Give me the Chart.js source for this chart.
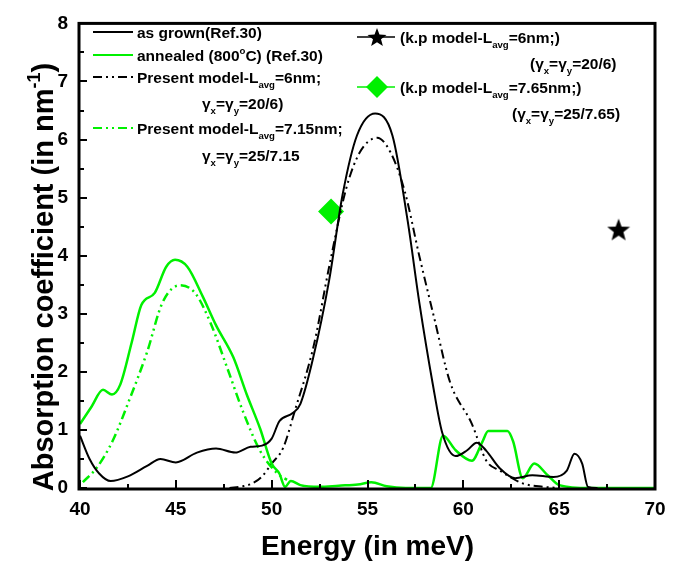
<!DOCTYPE html>
<html>
<head>
<meta charset="utf-8">
<script src="https://cdn.jsdelivr.net/npm/chart.js@4.4.0/dist/chart.umd.min.js"></script>
<style>
    html, body { margin: 0; padding: 0; background: #fff; }
    #wrap { width: 678px; height: 567px; }
</style>
</head>
<body>
<div id="wrap"><canvas id="absChart" width="678" height="567"></canvas></div>
<script>
// axis ranges
const energyRange = [40, 70];
const absRange = [0, 8];

// as grown (Ref.30)
const grownE = [40, 40.5, 41, 41.6, 42.5, 43.5, 44.2, 45, 46.1, 47.1, 48.1, 48.9, 49.5, 50.0, 50.4, 51.1, 51.5,
    52.15, 53.0, 53.7, 54.45, 55.4, 56.3, 57.1, 57.7, 58.4, 58.9, 59.6, 60.2, 60.7, 61.2, 61.9, 62.7, 63.6,
    64.7, 65.4, 65.8, 66.2, 66.5, 67];
const grownA = [0.9, 0.5, 0.25, 0.12, 0.2, 0.38, 0.5, 0.44, 0.61, 0.68, 0.61, 0.71, 0.73, 0.85, 1.15, 1.29, 1.45,
    2.22, 3.58, 5.05, 6.07, 6.45, 6.07, 4.59, 3.2, 1.8, 0.95, 0.55, 0.65, 0.78, 0.64, 0.34, 0.17, 0.22,
    0.19, 0.3, 0.59, 0.42, 0.02, 0];

// annealed (800 C) (Ref.30)
const annealE = [40, 40.6, 41.2, 41.67, 42.1, 42.7, 43.2, 43.9, 44.5, 44.96, 45.6, 46.4, 47.1, 48.0, 48.7, 49.4,
    50.0, 50.4, 50.7, 51.0, 51.5, 52.5, 53.5, 54.5, 55.2, 56, 57, 58.3, 58.94, 59.6, 60.45, 61.0, 61.3, 62.3,
    62.6, 63.1, 63.7, 64.4, 65, 66.6, 70];
const annealA = [1.1, 1.4, 1.69, 1.61, 1.78, 2.51, 3.15, 3.36, 3.81, 3.93, 3.81, 3.3, 2.8, 2.25, 1.61, 1.02,
    0.42, 0.25, 0.02, 0.12, 0.05, 0.02, 0.04, 0.06, 0.1, 0.03, 0, 0, 0.9, 0.65, 0.47, 0.8, 0.98, 0.98,
    0.8, 0.17, 0.42, 0.22, 0.05, 0, 0];

// present model, L_avg = 6nm
const model6E = [47.8, 48.5, 49, 49.5, 50, 50.6, 51.2, 52.2, 53, 53.9, 54.6, 55.5, 56.2, 56.95, 57.7, 58.5,
    59.3, 60.45, 61.2, 61.9, 63.1, 64.2, 65];
const model6A = [0, 0.03, 0.08, 0.2, 0.42, 0.69, 1.32, 2.46, 3.81, 5.17, 5.78, 6.03, 5.78, 5.1, 4.0, 2.9,
    1.83, 1.1, 0.47, 0.3, 0.08, 0.02, 0];

// present model, L_avg = 7.15nm
const model715E = [40.15, 40.9, 41.7, 42.6, 43.5, 44.3, 45.2, 46.0, 46.8, 47.7, 48.5, 49.4, 50.3, 50.8];
const model715A = [0.1, 0.36, 0.81, 1.54, 2.34, 3.19, 3.49, 3.36, 2.85, 2.05, 1.32, 0.64, 0.25, 0.14];

// k.p model points
const kp6E = [68.1];
const kp6A = [4.45];
const kp765E = [53.1];
const kp765A = [4.76];

const leftLegend = [
    'as grown(Ref.30)',
    'annealed (800^{o}C) (Ref.30)',
    'Present model-L_{avg}=6nm;',
    'γ_{x}=γ_{y}=20/6)',
    'Present model-L_{avg}=7.15nm;',
    'γ_{x}=γ_{y}=25/7.15'
];
const rightLegend = [
    '(k.p model-L_{avg}=6nm;)',
    '(γ_{x}=γ_{y}=20/6)',
    '(k.p model-L_{avg}=7.65nm;)',
    '(γ_{x}=γ_{y}=25/7.65)'
];

const GREEN = '#00f000';
const FONT = '"Liberation Sans", Arial, sans-serif';
const dashDotDot = [9, 4, 2, 4, 2, 4];

function toPoints(xs, ys) {
    return xs.map((x, i) => ({ x: x, y: ys[i] }));
}

function makeStar(size, color) {
    const c = document.createElement('canvas');
    c.width = size; c.height = size;
    const g = c.getContext('2d');
    g.fillStyle = color;
    g.beginPath();
    for (let i = 0; i < 10; i++) {
        const r = i % 2 ? size * 0.21 : size * 0.5;
        const a = -Math.PI / 2 + i * Math.PI / 5;
        const px = size / 2 + r * Math.cos(a);
        const py = size / 2 + 1 + r * Math.sin(a);
        if (i === 0) g.moveTo(px, py); else g.lineTo(px, py);
    }
    g.closePath();
    g.fill();
    return c;
}
const starImg = makeStar(24, '#000');
const starSmall = makeStar(20, '#000');

// text with _{sub} and ^{sup} parts
function drawRich(ctx, str, x, y, size, measureOnly) {
    const parts = str.split(/(\^\{[^}]*\}|_\{[^}]*\})/).filter(s => s.length);
    let cx = x;
    parts.forEach(p => {
        let txt = p, fs = size, dy = 0;
        if (p.startsWith('_{')) { txt = p.slice(2, -1); fs = size * 0.62; dy = size * 0.3; }
        else if (p.startsWith('^{')) { txt = p.slice(2, -1); fs = size * 0.62; dy = -size * 0.45; }
        ctx.font = 'bold ' + fs + 'px ' + FONT;
        if (!measureOnly) ctx.fillText(txt, cx, y + dy);
        cx += ctx.measureText(txt).width;
    });
    return cx - x;
}

const decorPlugin = {
    id: 'decor',
    afterDraw(chart) {
        const ctx = chart.ctx;
        const area = chart.chartArea;
        const xs = chart.scales.x, ys = chart.scales.y;
        ctx.save();
        ctx.strokeStyle = '#000';
        ctx.fillStyle = '#000';

        // frame
        ctx.lineWidth = 3;
        ctx.strokeRect(area.left - 1, area.top, area.right - area.left + 1, area.bottom - area.top + 1);

        // inward ticks
        ctx.lineWidth = 2;
        for (let v = energyRange[0]; v <= energyRange[1]; v += 2.5) {
            const px = Math.round(xs.getPixelForValue(v));
            const len = (v % 5 === 0) ? 8 : 4;
            ctx.beginPath(); ctx.moveTo(px, area.bottom); ctx.lineTo(px, area.bottom - len); ctx.stroke();
        }
        for (let v = absRange[0]; v <= absRange[1]; v += 0.5) {
            const py = Math.round(ys.getPixelForValue(v));
            const len = (v % 1 === 0) ? 7 : 4;
            ctx.beginPath(); ctx.moveTo(area.left, py); ctx.lineTo(area.left + len, py); ctx.stroke();
        }

        // y axis title
        ctx.save();
        ctx.translate(53, 277);
        ctx.rotate(-Math.PI / 2);
        ctx.textBaseline = 'alphabetic';
        const yTitle = 'Absorption coefficient (in nm^{-1})';
        const w = drawRich(ctx, yTitle, 0, 0, 29, true);
        drawRich(ctx, yTitle, -w / 2, 0, 29);
        ctx.restore();

        // left legend
        ctx.textBaseline = 'alphabetic';
        const rowsY = [32, 55, 77, 103, 128, 155];
        const samples = [
            { color: '#000', dash: [] },
            { color: GREEN, dash: [] },
            { color: '#000', dash: dashDotDot },
            null,
            { color: GREEN, dash: dashDotDot },
            null
        ];
        leftLegend.forEach((label, i) => {
            const s = samples[i];
            let tx = 202;
            if (s) {
                ctx.strokeStyle = s.color;
                ctx.lineWidth = 2;
                ctx.setLineDash(s.dash);
                ctx.beginPath(); ctx.moveTo(93, rowsY[i]); ctx.lineTo(133, rowsY[i]); ctx.stroke();
                ctx.setLineDash([]);
                tx = 137;
            }
            ctx.fillStyle = '#000';
            drawRich(ctx, label, tx, rowsY[i] + 6, 15.5);
        });

        // right legend
        const rRows = [37, 63, 87, 113];
        const rX = [400, 530, 400, 512];
        ctx.lineWidth = 1.5;
        ctx.strokeStyle = '#000';
        ctx.beginPath(); ctx.moveTo(357, rRows[0]); ctx.lineTo(395, rRows[0]); ctx.stroke();
        ctx.drawImage(starSmall, 377 - 10, rRows[0] - 10);
        ctx.strokeStyle = GREEN;
        ctx.beginPath(); ctx.moveTo(357, rRows[2]); ctx.lineTo(395, rRows[2]); ctx.stroke();
        ctx.fillStyle = GREEN;
        Chart.helpers.drawPoint(ctx, { pointStyle: 'rectRot', radius: 11, rotation: 0, borderWidth: 0 }, 377, rRows[2]);
        ctx.fillStyle = '#000';
        rightLegend.forEach((label, i) => {
            drawRich(ctx, label, rX[i], rRows[i] + 6, 15.5);
        });

        ctx.restore();
    }
};

const ctx = document.getElementById('absChart').getContext('2d');
const absChart = new Chart(ctx, {
    type: 'line',
    data: {
        datasets: [
            {
                label: 'as grown(Ref.30)',
                data: toPoints(grownE, grownA),
                borderColor: '#000',
                borderWidth: 2,
                pointRadius: 0,
                cubicInterpolationMode: 'monotone'
            },
            {
                label: 'annealed (800°C) (Ref.30)',
                data: toPoints(annealE, annealA),
                borderColor: GREEN,
                borderWidth: 2.5,
                pointRadius: 0,
                cubicInterpolationMode: 'monotone'
            },
            {
                label: 'Present model-Lavg=6nm',
                data: toPoints(model6E, model6A),
                borderColor: '#000',
                borderWidth: 2,
                borderDash: dashDotDot,
                pointRadius: 0,
                cubicInterpolationMode: 'monotone'
            },
            {
                label: 'Present model-Lavg=7.15nm',
                data: toPoints(model715E, model715A),
                borderColor: GREEN,
                borderWidth: 2.5,
                borderDash: dashDotDot,
                pointRadius: 0,
                cubicInterpolationMode: 'monotone'
            },
            {
                label: 'k.p model-Lavg=6nm',
                data: toPoints(kp6E, kp6A),
                showLine: false,
                pointStyle: starImg,
                pointRadius: 12
            },
            {
                label: 'k.p model-Lavg=7.65nm',
                data: toPoints(kp765E, kp765A),
                showLine: false,
                pointStyle: 'rectRot',
                pointRadius: 13,
                pointBackgroundColor: GREEN,
                pointBorderWidth: 0,
                borderColor: GREEN
            }
        ]
    },
    options: {
        responsive: false,
        animation: false,
        layout: { padding: { left: 0, top: 11, right: 23, bottom: 0 } },
        plugins: {
            legend: { display: false },
            tooltip: { enabled: false }
        },
        scales: {
            x: {
                type: 'linear',
                min: energyRange[0],
                max: energyRange[1],
                ticks: {
                    stepSize: 5,
                    color: '#000',
                    padding: 10,
                    font: { family: FONT, size: 19, weight: 'bold' }
                },
                grid: { display: false, drawTicks: false },
                border: { display: false },
                title: {
                    display: true,
                    text: 'Energy (in meV)',
                    color: '#000',
                    padding: { top: 0, bottom: 3 },
                    font: { family: FONT, size: 28, weight: 'bold' }
                },
                afterFit(scale) { scale.height = 79; }
            },
            y: {
                min: absRange[0],
                max: absRange[1],
                ticks: {
                    stepSize: 1,
                    color: '#000',
                    padding: 12,
                    font: { family: FONT, size: 19, weight: 'bold' }
                },
                grid: { display: false, drawTicks: false },
                border: { display: false },
                afterFit(scale) { scale.width = 80; }
            }
        }
    },
    plugins: [decorPlugin]
});
</script>
</body>
</html>
